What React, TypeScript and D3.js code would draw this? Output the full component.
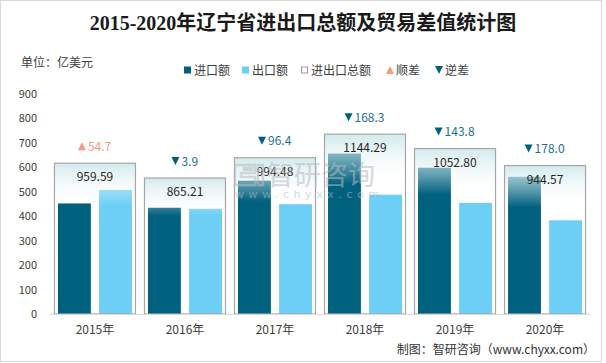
import React from 'react';
import * as d3 from 'd3';

// 数据（亿美元）
const years = ['2015年', '2016年', '2017年', '2018年', '2019年', '2020年'];
const imports = [452.4, 434.7, 545.4, 656.3, 598.3, 561.3];
const exports = [507.2, 430.5, 449.1, 488.0, 454.5, 383.3];
const totals = [959.59, 865.21, 994.48, 1144.29, 1052.8, 944.57];
const balances = [54.7, -3.9, -96.4, -168.3, -143.8, -178.0];
const yTicks = [0, 100, 200, 300, 400, 500, 600, 700, 800, 900];

const W = 606;
const H = 363;
const IMPORT_COLOR = '#00617f';
const EXPORT_COLOR = '#6dcff6';
const SURPLUS_COLOR = '#f29c7f';
const DEFICIT_COLOR = '#00617f';
const FONT = '"Noto Sans CJK SC", "Noto Sans", sans-serif';

const textWidth = (s: string) =>
  s.split('').reduce((w, c) => w + (c === '.' ? 3.3 : 6.9), 0);

const App: React.FC = () => {
  const x = d3.scaleBand<string>()
    .domain(years)
    .range([50, 590])
    .paddingInner(0.089)
    .paddingOuter(0.044);
  const inner = d3.scaleBand<string>()
    .domain(['import', 'export'])
    .range([4, x.bandwidth() - 4])
    .paddingInner(0.2);
  const y = d3.scaleLinear().domain([0, 900]).range([314, 94]);
  // secondary axis for the total boxes
  const y2 = d3.scaleLinear().domain([0, 1400]).range([314, 94]);

  const tri = (up: boolean, cx: number, cy: number, s = 8) =>
    up
      ? `M${cx - s / 2},${cy + s / 2}L${cx + s / 2},${cy + s / 2}L${cx},${cy - s / 2}Z`
      : `M${cx - s / 2},${cy - s / 2}L${cx + s / 2},${cy - s / 2}L${cx},${cy + s / 2}Z`;

  const legend = [
    { label: '进口额', x: 184, kind: 'rect', color: IMPORT_COLOR },
    { label: '出口额', x: 242, kind: 'rect', color: EXPORT_COLOR },
    { label: '进出口总额', x: 301, kind: 'hollow', color: '#999' },
    { label: '顺差', x: 386, kind: 'up', color: SURPLUS_COLOR },
    { label: '逆差', x: 435, kind: 'down', color: DEFICIT_COLOR },
  ];

  return (
    <svg width={W} height={H} style={{ position: 'absolute', left: 0, top: 0 }} fontFamily={FONT}>
      <defs>
        <linearGradient id="boxFade" x1="0" y1="0" x2="0" y2="1">
          <stop offset="0" stopColor="rgb(208,233,235)" stopOpacity={0.95} />
          <stop offset="0.28" stopColor="#ffffff" stopOpacity={0} />
        </linearGradient>
      </defs>
      <rect x={0.5} y={0.5} width={601} height={361} fill="#fff" stroke="#d9d9d9" />

      <text x={303} y={30} textAnchor="middle" fontSize={20} fontWeight="bold"
        fontFamily='"Liberation Serif", "Noto Sans CJK SC", serif' fill="#1a1a1a">
        2015-2020年辽宁省进出口总额及贸易差值统计图
      </text>

      <text x={21} y={67} fontSize={12} fill="#404040">单位：亿美元</text>

      {legend.map(l => (
        <g key={l.label}>
          {l.kind === 'rect' && <rect x={l.x} y={66.5} width={7} height={7} fill={l.color} />}
          {l.kind === 'hollow' && <rect x={l.x + 0.5} y={67} width={6} height={6} fill="#fff" stroke={l.color} />}
          {l.kind === 'up' && <path d={tri(true, l.x + 4, 70)} fill={l.color} />}
          {l.kind === 'down' && <path d={tri(false, l.x + 4, 70)} fill={l.color} />}
          <text x={l.x + 10} y={74.5} fontSize={12} fill="#404040">{l.label}</text>
        </g>
      ))}

      {yTicks.map(t => (
        <text key={t} x={37} y={y(t) + 4} textAnchor="end" fontSize={11} fill="#404040">{t}</text>
      ))}

      {years.map((yr, i) => {
        const bx = x(yr)!;
        return (
          <g key={yr}>
            <rect x={bx + inner('import')!} y={y(imports[i])} width={inner.bandwidth()}
              height={y(0) - y(imports[i])} fill={IMPORT_COLOR} />
            <rect x={bx + inner('export')!} y={y(exports[i])} width={inner.bandwidth()}
              height={y(0) - y(exports[i])} fill={EXPORT_COLOR} />
          </g>
        );
      })}

      {years.map((yr, i) => {
        const bx = x(yr)!;
        const top = y2(totals[i]);
        const cx = bx + x.bandwidth() / 2;
        const up = balances[i] > 0;
        const lbl = Math.abs(balances[i]).toFixed(1);
        const gw = 10 + textWidth(lbl);
        const gx = cx - gw / 2;
        return (
          <g key={yr + 'b'}>
            <rect x={bx + 0.5} y={top} width={x.bandwidth() - 1} height={y2(0) - top}
              fill="url(#boxFade)" stroke="#a6a6a6" strokeWidth={1.2} />
            <text x={cx} y={top + 18} textAnchor="middle" fontSize={12} fill="#262626">
              {totals[i].toFixed(2)}
            </text>
            <path d={tri(up, gx + 4, top - 17)} fill={up ? SURPLUS_COLOR : DEFICIT_COLOR} />
            <text x={gx + 10} y={top - 12.5} fontSize={12} fill={up ? SURPLUS_COLOR : '#1d6f8e'}>{lbl}</text>
          </g>
        );
      })}

      <line x1={50} x2={590} y1={314.5} y2={314.5} stroke="#d9d9d9" />

      {years.map(yr => (
        <text key={yr + 'x'} x={x(yr)! + x.bandwidth() / 2} y={334} textAnchor="middle" fontSize={12} fill="#404040">{yr}</text>
      ))}

      {/* watermark, drawn over the marks */}
      <g opacity={0.55} fill="#b4bbc2">
        <path d="M235,165h20v8h-14v4h14v8h-20zM244,168h8v2h-8zM258,165h5v20h-5z" fill="none" stroke="#b4bbc2" strokeWidth={2.5} />
        <text x={267} y={185} fontSize={27}>智研咨询</text>
        <text x={235} y={198} fontSize={11} letterSpacing={4.6} fontFamily='"DejaVu Sans", sans-serif'>www.chyxx.com</text>
      </g>

      <text x={595} y={354} textAnchor="end" fontSize={12} fill="#333">制图：智研咨询（www.chyxx.com）</text>
    </svg>
  );
};

export default App;
